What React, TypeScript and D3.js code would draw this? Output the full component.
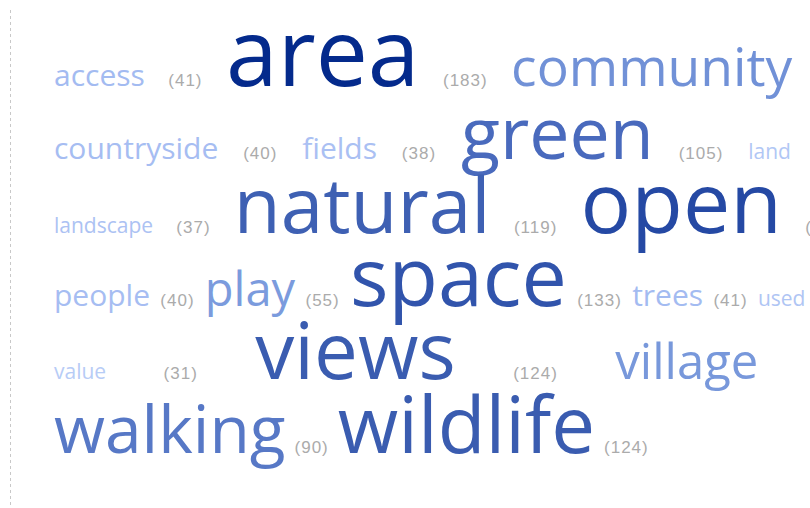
import React, { useEffect, useRef } from 'react';
import * as d3 from 'd3';

// Tag cloud data (alphabetical, as in the reference)
const words = ['access', 'area', 'community', 'countryside', 'fields', 'green', 'land', 'landscape', 'natural', 'open', 'people', 'play', 'space', 'trees', 'used', 'value', 'views', 'village', 'walking', 'wildlife'];
const counts = [41, 183, 65, 40, 38, 105, 34, 37, 119, 146, 40, 55, 133, 41, 35, 31, 124, 58, 90, 124];

const W = 810;
const H = 508;
const LEFT = 54;
const RIGHT = 850;
const FIRST_BASELINE = 86;
const LINE_STEP = 73.3;
const GAP = 9;
const WORD_FONT = "'Open Sans', 'DejaVu Sans', sans-serif";
const COUNT_FONT = "'Liberation Sans', Arial, sans-serif";

type Token = { text: string; kind: 'word' | 'count'; count: number; w: number; x: number; y: number };

export default function App() {
  const ref = useRef<SVGSVGElement>(null);

  useEffect(() => {
    const svg = d3.select(ref.current);
    svg.selectAll('*').remove();

    svg.append('rect').attr('width', W).attr('height', H).attr('fill', '#ffffff');

    svg.append('line')
      .attr('x1', 10.5).attr('x2', 10.5)
      .attr('y1', 10).attr('y2', H)
      .attr('stroke', '#c8c8c8')
      .attr('stroke-width', 1)
      .attr('stroke-dasharray', '3,3');

    const sizeLog = d3.scaleLog().domain([55, 183]).range([47, 93]);
    const fontSize = (c: number) => (c < 38 ? 21 : c < 50 ? 30 : sizeLog(c));
    const color = d3.scaleLinear<string>()
      .domain([31, 40, 55, 100, 124, 140, 183])
      .range(['#b7ccf6', '#a6bdf2', '#7b9bdd', '#4d6ec0', '#3a5cb0', '#2a4ea8', '#042a8c'])
      .interpolate(d3.interpolateRgb)
      .clamp(true);

    const tokens: Token[] = [];
    words.forEach((w, i) => {
      tokens.push({ text: w, kind: 'word', count: counts[i], w: 0, x: 0, y: 0 });
      tokens.push({ text: `(${counts[i]})`, kind: 'count', count: counts[i], w: 0, x: 0, y: 0 });
    });

    const g = svg.append('g');
    const texts = g.selectAll<SVGTextElement, Token>('text')
      .data(tokens)
      .join('text')
      .text(d => d.text)
      .attr('font-family', d => (d.kind === 'word' ? WORD_FONT : COUNT_FONT))
      .attr('font-size', d => (d.kind === 'word' ? fontSize(d.count) : 17))
      .attr('letter-spacing', d => (d.kind === 'word' ? 0 : 1))
      .attr('fill', d => (d.kind === 'word' ? color(d.count) : '#ababab'));

    texts.each(function (d) {
      d.w = (this as SVGTextElement).getComputedTextLength();
    });

    // flow layout: word+count pairs, greedy line breaks, justified lines
    const avail = RIGHT - LEFT;
    const lines: Token[][] = [];
    let cur: Token[] = [];
    let curW = 0;
    for (let i = 0; i < tokens.length; i += 2) {
      const pair = [tokens[i], tokens[i + 1]];
      const pw = pair[0].w + GAP + pair[1].w;
      const need = cur.length ? curW + GAP + pw : pw;
      if (cur.length && need > avail) {
        lines.push(cur);
        cur = [...pair];
        curW = pw;
      } else {
        cur.push(...pair);
        curW = need;
      }
    }
    if (cur.length) lines.push(cur);

    lines.forEach((line, li) => {
      const natural = d3.sum(line, t => t.w) + GAP * (line.length - 1);
      const last = li === lines.length - 1;
      const gap = last ? GAP : GAP + (avail - natural) / (line.length - 1);
      let x = LEFT;
      line.forEach(t => {
        t.x = x;
        t.y = FIRST_BASELINE + li * LINE_STEP;
        x += t.w + gap;
      });
    });

    texts.attr('x', d => d.x).attr('y', d => d.y);
  }, []);

  return (
    <svg
      ref={ref}
      width={W}
      height={H}
      style={{ position: 'absolute', left: 0, top: 0, display: 'block' }}
    />
  );
}
